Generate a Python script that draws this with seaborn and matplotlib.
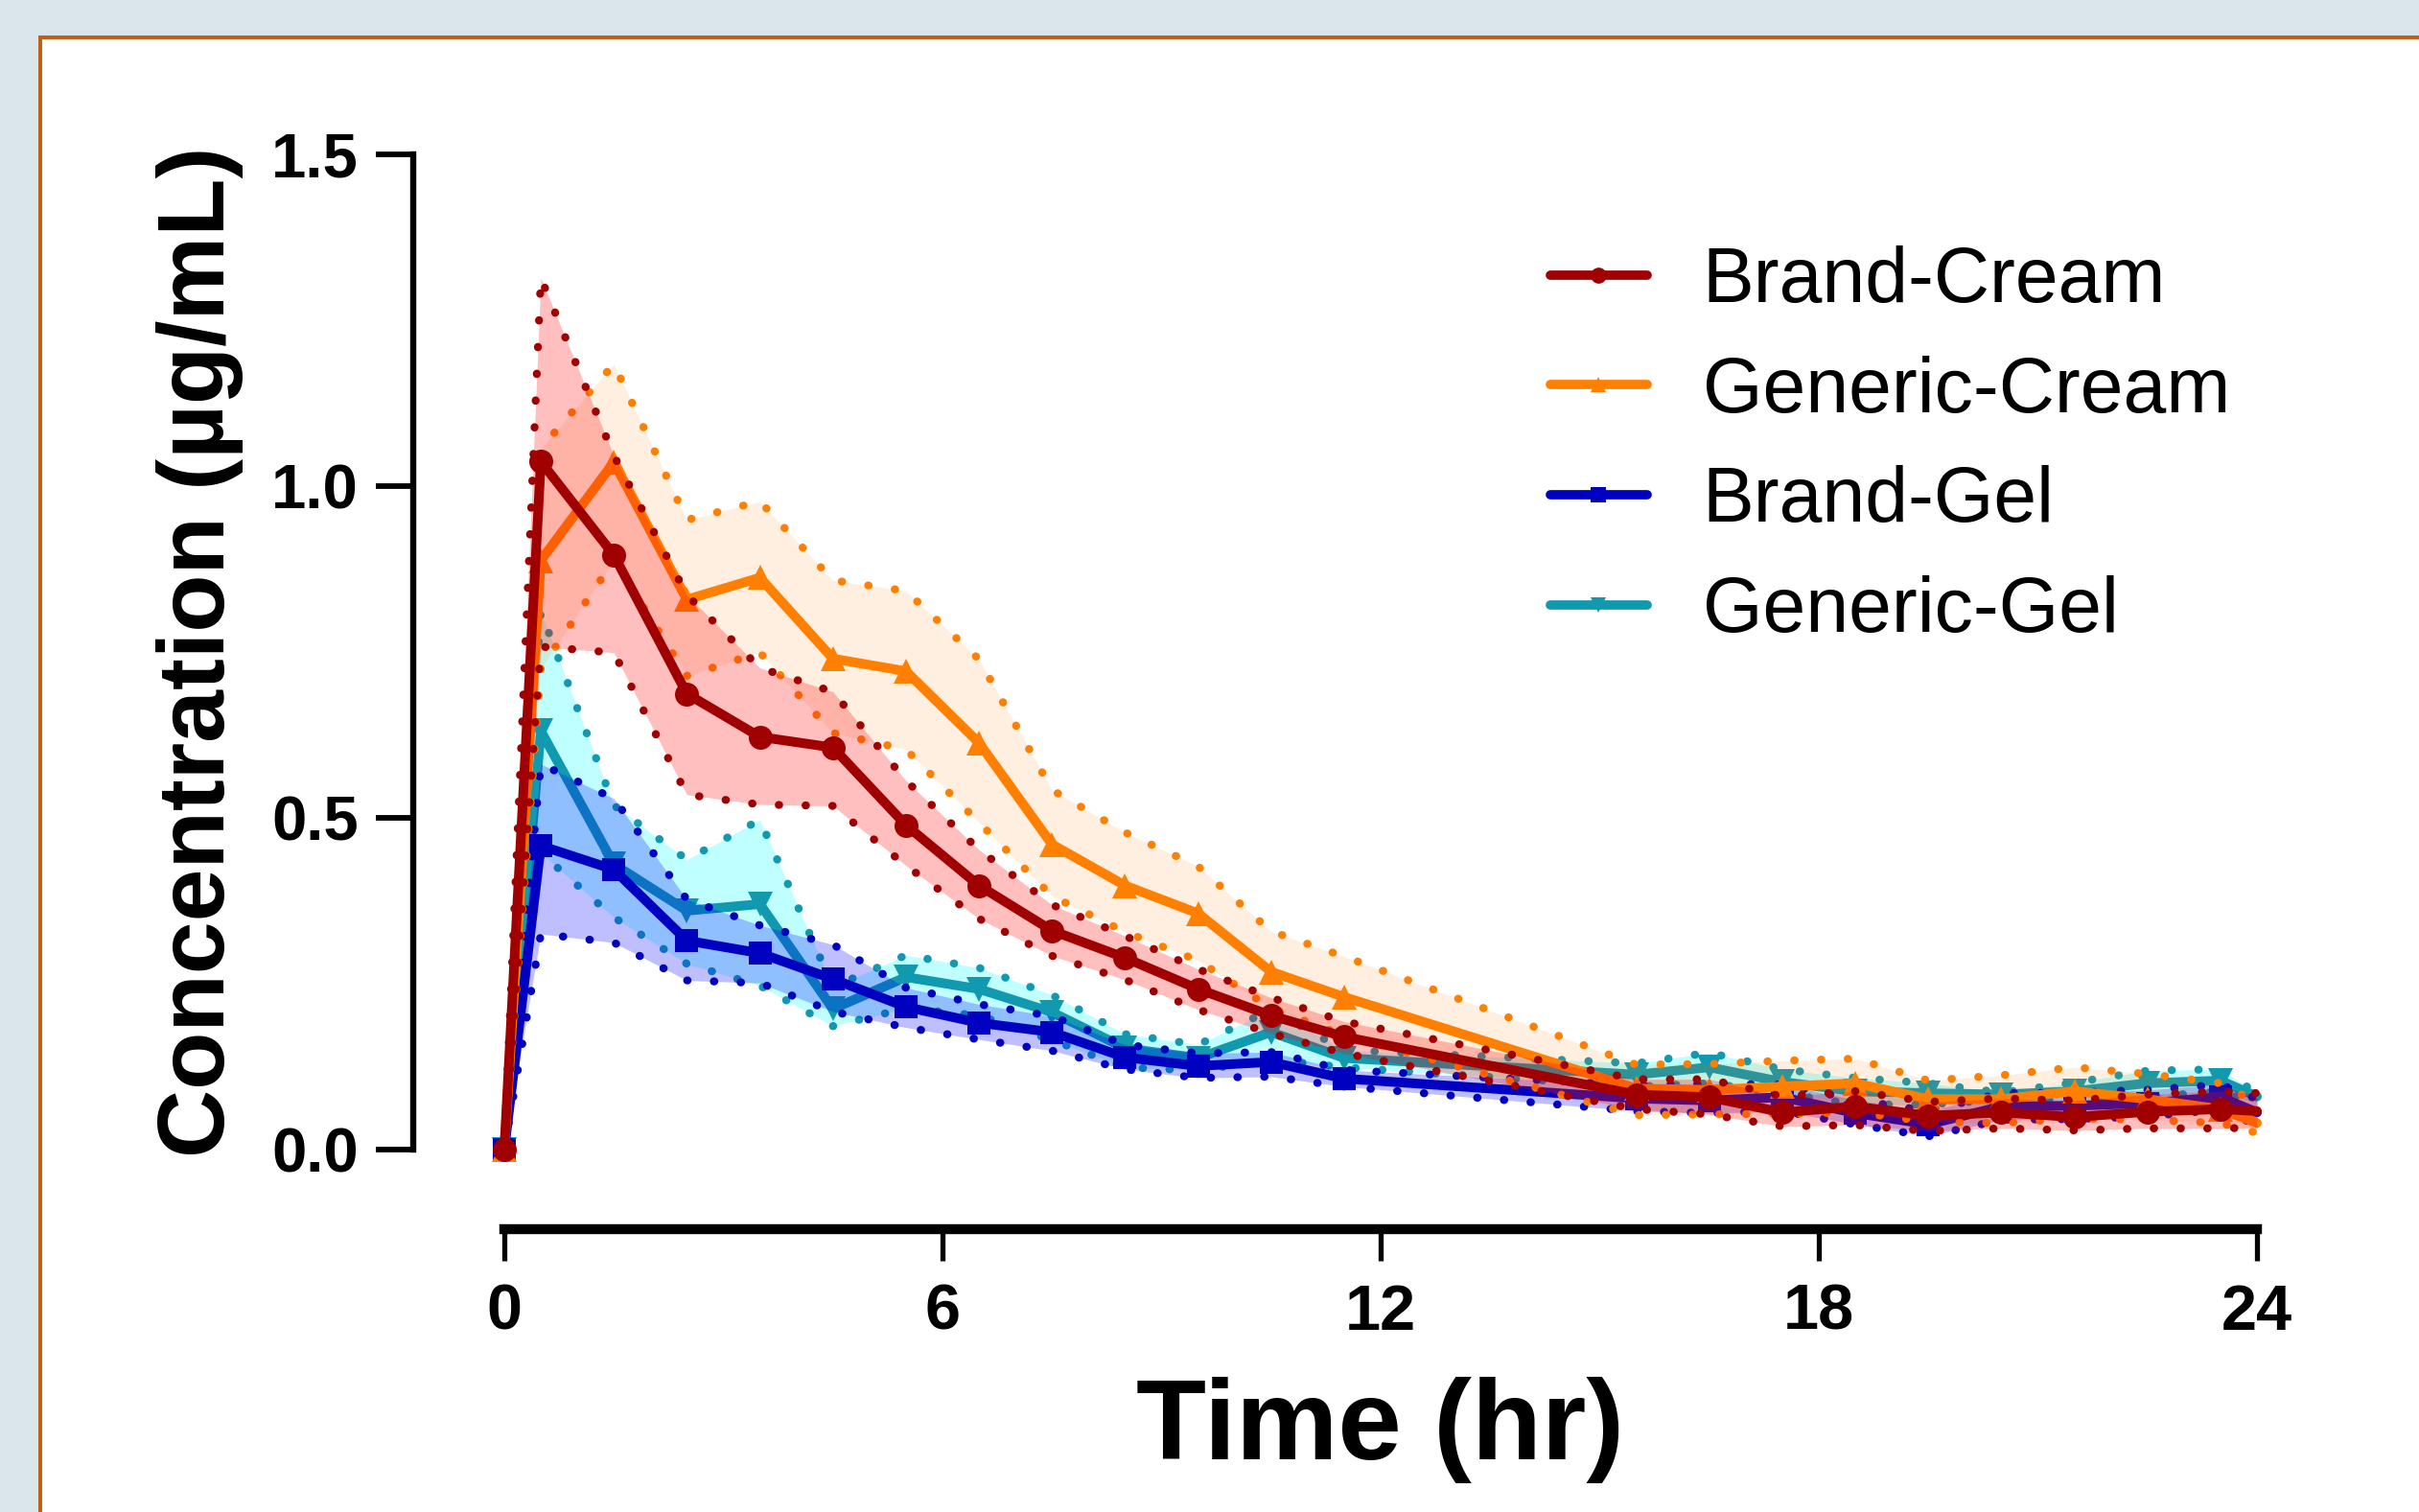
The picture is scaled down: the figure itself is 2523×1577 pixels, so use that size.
import numpy as np
import pandas as pd
import matplotlib
matplotlib.use("Agg")
import matplotlib.pyplot as plt
import seaborn as sns
from matplotlib.lines import Line2D
from matplotlib.patches import Rectangle

# sampling times (hr) - no samples between 11.5 and 15.5
times = [0, 0.5, 1.5, 2.5, 3.5, 4.5, 5.5, 6.5, 7.5, 8.5, 9.5, 10.5, 11.5,
         15.5, 16.5, 17.5, 18.5, 19.5, 20.5, 21.5, 22.5, 23.5, 24]

# mean concentrations (ug/mL) with upper/lower band
brand_cream = [0, 1.037, 0.896, 0.687, 0.622, 0.606, 0.489, 0.398, 0.330, 0.289, 0.242, 0.202, 0.170,
               0.083, 0.079, 0.056, 0.065, 0.051, 0.056, 0.049, 0.057, 0.061, 0.058]
brand_cream_hi = [0, 1.314, 1.046, 0.836, 0.726, 0.690, 0.556, 0.452, 0.369, 0.322, 0.272, 0.229, 0.193,
                  0.106, 0.106, 0.080, 0.088, 0.072, 0.077, 0.074, 0.083, 0.088, 0.085]
brand_cream_lo = [0, 0.758, 0.749, 0.535, 0.520, 0.518, 0.428, 0.348, 0.292, 0.256, 0.211, 0.175, 0.145,
                  0.061, 0.053, 0.035, 0.037, 0.028, 0.032, 0.029, 0.032, 0.032, 0.033]

generic_cream = [0, 0.888, 1.036, 0.829, 0.862, 0.740, 0.721, 0.613, 0.460, 0.398, 0.356, 0.268, 0.230,
                 0.092, 0.090, 0.095, 0.100, 0.076, 0.076, 0.088, 0.076, 0.061, 0.040]
generic_cream_hi = [0, 1.057, 1.184, 0.949, 0.977, 0.858, 0.842, 0.739, 0.542, 0.478, 0.427, 0.329, 0.291,
                    0.128, 0.129, 0.134, 0.137, 0.104, 0.112, 0.124, 0.114, 0.100, 0.070]
generic_cream_lo = [0, 0.725, 0.888, 0.714, 0.749, 0.628, 0.603, 0.493, 0.382, 0.328, 0.285, 0.213, 0.172,
                    0.052, 0.053, 0.054, 0.056, 0.042, 0.040, 0.047, 0.045, 0.040, 0.025]

brand_gel = [0, 0.458, 0.422, 0.315, 0.296, 0.257, 0.215, 0.191, 0.177, 0.139, 0.126, 0.132, 0.107,
             0.077, 0.074, 0.079, 0.055, 0.038, 0.065, 0.066, 0.070, 0.079, 0.056]
brand_gel_hi = [0, 0.581, 0.529, 0.377, 0.338, 0.309, 0.244, 0.219, 0.201, 0.158, 0.145, 0.147, 0.120,
                0.097, 0.099, 0.098, 0.075, 0.058, 0.085, 0.086, 0.090, 0.098, 0.076]
brand_gel_lo = [0, 0.325, 0.312, 0.255, 0.251, 0.208, 0.184, 0.166, 0.149, 0.121, 0.108, 0.110, 0.095,
                0.058, 0.055, 0.058, 0.038, 0.020, 0.045, 0.046, 0.050, 0.060, 0.037]

generic_gel = [0, 0.631, 0.430, 0.360, 0.370, 0.212, 0.260, 0.242, 0.207, 0.153, 0.138, 0.177, 0.138,
               0.113, 0.124, 0.102, 0.088, 0.085, 0.083, 0.088, 0.100, 0.104, 0.080]
generic_gel_hi = [0, 0.811, 0.519, 0.437, 0.497, 0.245, 0.293, 0.274, 0.233, 0.174, 0.158, 0.211, 0.150,
                  0.130, 0.146, 0.121, 0.108, 0.100, 0.086, 0.101, 0.119, 0.121, 0.085]
generic_gel_lo = [0, 0.447, 0.350, 0.280, 0.247, 0.186, 0.213, 0.202, 0.165, 0.124, 0.119, 0.136, 0.124,
                  0.095, 0.100, 0.085, 0.068, 0.068, 0.075, 0.075, 0.080, 0.087, 0.070]

labels = ["Brand-Cream", "Generic-Cream", "Brand-Gel", "Generic-Gel"]
line_colors = ["#A00000", "#FF8000", "#0000C0", "#1199B0"]
fill_colors = [("#FF0000", 0.25), ("#FF8000", 0.12), ("#0000FF", 0.25), ("#00FFFF", 0.25)]
markers = ["o", "^", "s", "v"]
marker_sizes = [18, 19, 17, 19]

series = {
    "Brand-Cream": (brand_cream, brand_cream_hi, brand_cream_lo),
    "Generic-Cream": (generic_cream, generic_cream_hi, generic_cream_lo),
    "Brand-Gel": (brand_gel, brand_gel_hi, brand_gel_lo),
    "Generic-Gel": (generic_gel, generic_gel_hi, generic_gel_lo),
}

sns.set_style("ticks")
plt.rcParams["font.family"] = ["Liberation Sans", "DejaVu Sans"]
plt.rcParams["text.color"] = "black"

fig = plt.figure(figsize=(25.23, 15.77), dpi=100)
fig.patch.set_facecolor("#DAE6EC")
# white panel with orange frame
fig.patches.append(Rectangle((42 / 2523, -0.05), 1.0, 1 - 39 / 1577 + 0.05,
                             transform=fig.transFigure, facecolor="white",
                             edgecolor="#C55A11", linewidth=2.8, zorder=-5))

ax = fig.add_axes([526 / 2523, 1 - 1199 / 1577, 1828 / 2523, 1038 / 1577])
ax.set_facecolor("none")

n = len(times)
# draw gels first, brand cream last (its band sits on top)
for k, i in enumerate([3, 2, 1, 0]):
    name = labels[i]
    mean, hi, lo = series[name]
    df = pd.DataFrame({"time": times, "mean": mean, "hi": hi, "lo": lo})
    base = 10 * (k + 1)
    fc, fa = fill_colors[i]
    ax.fill_between(df["time"], df["lo"], df["hi"], color=fc, alpha=fa,
                    linewidth=0, zorder=base + 1)
    for col in ["hi", "lo"]:
        sns.lineplot(data=df, x="time", y=col, ax=ax, color=line_colors[i])
        ln = ax.lines[-1]
        ln.set_linewidth(6.0)
        ln.set_linestyle((0, (0.05, 3.3)))
        ln.set_dash_capstyle("round")
        ln.set_zorder(base + 2)
        ln.set_clip_on(False)
    sns.lineplot(data=df, x="time", y="mean", ax=ax, color=line_colors[i])
    ln = ax.lines[-1]
    ln.set_linewidth(7.2)
    ln.set_marker(markers[i])
    ln.set_markersize(marker_sizes[i])
    ln.set_markeredgewidth(0)
    ln.set_markerfacecolor(line_colors[i])
    ln.set_markevery(list(range(n - 1)))
    ln.set_zorder(base + 3)
    ln.set_clip_on(False)

ax.set_xlim(0, 24)
ax.set_ylim(0, 1.5)
ax.set_xticks([0, 6, 12, 18, 24])
ax.set_yticks([0, 0.5, 1.0, 1.5])
ax.set_yticklabels(["0.0", "0.5", "1.0", "1.5"])

for s in ["top", "right"]:
    ax.spines[s].set_visible(False)
ax.spines["left"].set_position(("outward", 95 * 0.72))
ax.spines["bottom"].set_position(("outward", 83 * 0.72))
ax.spines["left"].set_linewidth(4.6)
ax.spines["bottom"].set_linewidth(7.5)
ax.spines["left"].set_color("black")
ax.spines["bottom"].set_color("black")

ax.tick_params(axis="y", direction="out", length=28, width=4.2, pad=13,
               labelsize=47, colors="black", labelcolor="black")
ax.tick_params(axis="x", direction="out", length=24, width=3.8, pad=17,
               labelsize=48, colors="black", labelcolor="black")
for t in ax.get_xticklabels() + ax.get_yticklabels():
    t.set_fontweight("bold")

ax.set_xlabel("Time (hr)", fontsize=86, fontweight="bold", color="black")
ax.set_ylabel("Concentration (µg/mL)", fontsize=71, fontweight="bold", color="black")
ax.xaxis.set_label_coords(0.5, -0.228)
ax.yaxis.set_label_coords(-0.149, 0.5)

handles = [Line2D([0], [0], color=line_colors[i], linewidth=7.0, marker=markers[i],
                  markersize=12, markeredgewidth=0) for i in range(4)]
leg = ax.legend(handles, labels, loc="upper left", bbox_to_anchor=(1617 / 2523, 1 - 256 / 1577),
                bbox_transform=fig.transFigure, frameon=False, fontsize=58,
                handlelength=1.25, handletextpad=0.72, labelspacing=0.48,
                borderpad=0, borderaxespad=0)
for t in leg.get_texts():
    t.set_color("black")

fig.savefig("out.png", dpi=100, facecolor=fig.get_facecolor())
